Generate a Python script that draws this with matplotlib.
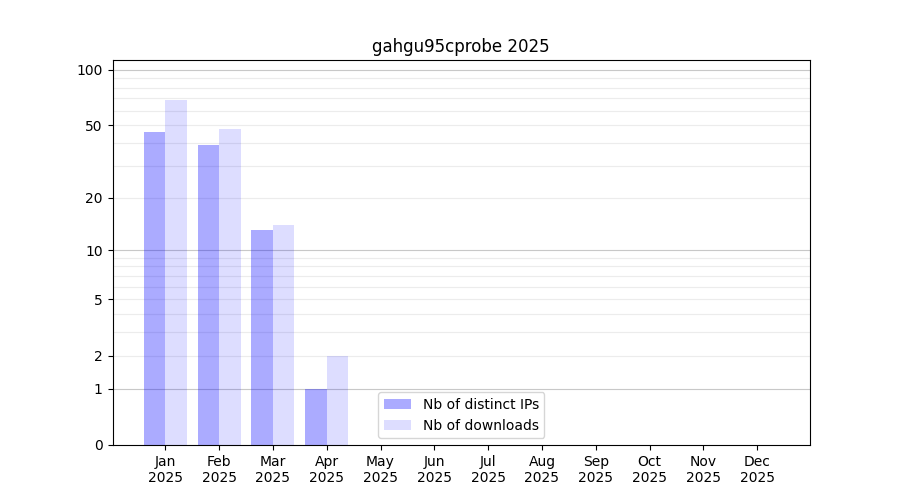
import numpy as np
import matplotlib
matplotlib.use("Agg")
import matplotlib.pyplot as plt
from matplotlib.ticker import FixedLocator

months = ['Jan', 'Feb', 'Mar', 'Apr', 'May', 'Jun', 'Jul', 'Aug', 'Sep', 'Oct', 'Nov', 'Dec']
year = '2025'
nb_ips = [46, 39, 13, 1, 0, 0, 0, 0, 0, 0, 0, 0]
nb_downloads = [69, 48, 14, 2, 0, 0, 0, 0, 0, 0, 0, 0]
ytick_values = [0, 1, 2, 5, 10, 20, 50, 100]


def fwd(v):
    return np.log10(1 + np.maximum(v, 0))


def inv(v):
    return 10 ** v - 1


fig = plt.figure(figsize=(9, 5), dpi=100)
ax = fig.add_subplot(1, 1, 1)

x = np.arange(len(months))
ax.bar(x - 0.2, nb_ips, width=0.4, color='blue', alpha=0.33, label='Nb of distinct IPs')
ax.bar(x + 0.2, nb_downloads, width=0.4, color='blue', alpha=0.135, label='Nb of downloads')

ax.set_yscale('function', functions=(fwd, inv))
ax.set_ylim(0, 113)
ax.set_xlim(-0.98, 11.98)

ax.set_yticks(ytick_values)
ax.set_yticklabels([str(v) for v in ytick_values])
minor = [m * d for d in (1, 10) for m in range(2, 10)] + [1, 10, 100]
ax.yaxis.set_minor_locator(FixedLocator(minor))
ax.tick_params(axis='y', which='minor', length=0)

# light grid, darker at decades
for v in minor:
    c = '#c8c8c8' if v in (1, 10, 100) else '#ececec'
    ax.axhline(v, color=c, linewidth=0.8, zorder=0.5)

ax.set_xticks(x)
ax.set_xticklabels([m + '\n' + year for m in months])
ax.set_title('gahgu95cprobe 2025')
ax.legend(loc='lower center')

plt.savefig('out.png')
